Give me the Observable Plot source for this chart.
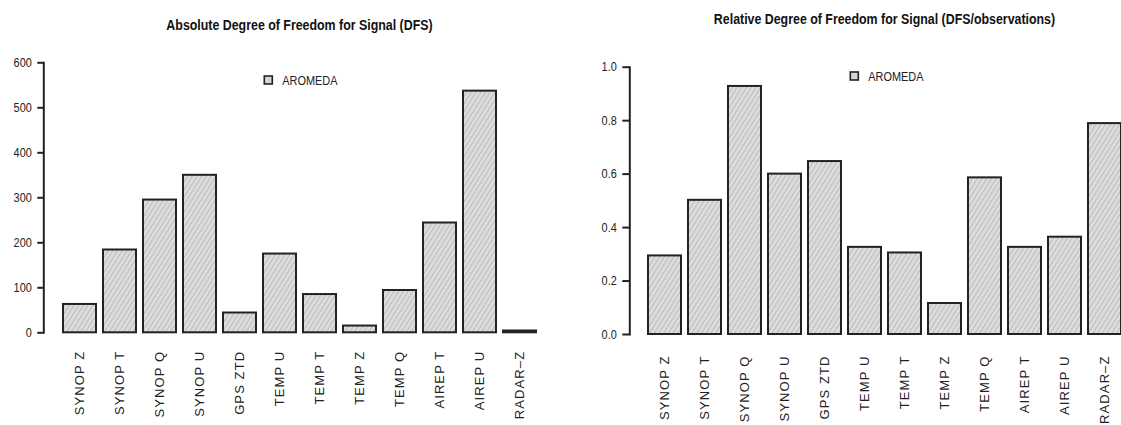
<!DOCTYPE html>
<html><head><meta charset="utf-8">
<script src="https://cdn.jsdelivr.net/npm/d3@7"></script>
<script src="https://cdn.jsdelivr.net/npm/@observablehq/plot@0.6"></script>
<style>
html,body{margin:0;padding:0;background:#fff;overflow:hidden;width:1121px;height:425px}
#wrap{position:relative;width:1121px;height:425px;overflow:hidden;background:#fff}
.panel{position:absolute;top:0}
#overlay{position:absolute;left:0;top:0;pointer-events:none}
.pnl g[aria-label="x-axis tick label"] text{letter-spacing:1.1px}
</style>
</head><body>
<div id="wrap"></div>
<script>
// ---- data ----
const categories = ["SYNOP Z","SYNOP T","SYNOP Q","SYNOP U","GPS ZTD","TEMP U","TEMP T","TEMP Z","TEMP Q","AIREP T","AIREP U","RADAR–Z"];
const absoluteDFS = [63, 184, 295, 350, 44, 175, 85, 15, 94, 244, 537, 4];
const relativeDFS = [0.294, 0.502, 0.928, 0.600, 0.647, 0.326, 0.305, 0.116, 0.586, 0.326, 0.364, 0.789];
const absTicks = [0, 100, 200, 300, 400, 500, 600];
const relTicks = [0, 0.2, 0.4, 0.6, 0.8, 1.0];
const titles = ["Absolute Degree of Freedom for Signal (DFS)", "Relative Degree of Freedom for Signal (DFS/observations)"];
const seriesName = "AROMEDA";

const sans = "'Liberation Sans',Arial,sans-serif";
const ink = "#222";
const squeeze = 0.84; // horizontal compression of the original raster

const wrap = document.getElementById("wrap");

function addHatch(svg, id) {
  const defs = d3.select(svg).insert("defs", ":first-child");
  const p = defs.append("pattern").attr("id", id).attr("patternUnits", "userSpaceOnUse")
    .attr("width", 4).attr("height", 4).attr("patternTransform", "rotate(32)");
  p.append("rect").attr("width", 4).attr("height", 4).attr("fill", "#dcdcdc");
  p.append("line").attr("x1", 0.5).attr("y1", 0).attr("x2", 0.5).attr("y2", 4)
    .attr("stroke", "#bcbcbc").attr("stroke-width", 1);
}

// compress text horizontally around its anchor point
function narrowText(sel, k) {
  sel.each(function() {
    const x = parseFloat(this.getAttribute("x") || 0);
    const t = this.getAttribute("transform") || "";
    this.setAttribute("transform", `${t} translate(${x},0) scale(${k},1) translate(${-x},0)`.trim());
  });
}

function panel(opt) {
  const data = categories.map((c, i) => ({cat: c, v: opt.values[i]}));
  const chart = Plot.plot({
    className: "pnl",
    width: opt.width, height: 425,
    marginLeft: opt.marginLeft, marginRight: opt.marginRight,
    marginTop: opt.marginTop, marginBottom: opt.marginBottom,
    style: {background: "transparent", overflow: "visible"},
    x: {type: "band", domain: categories, padding: 0.18, insetLeft: opt.insetLeft, axis: null},
    y: {domain: [opt.ticks[0], opt.ticks[opt.ticks.length - 1]], axis: null},
    marks: [
      Plot.barY(data, {x: "cat", y: "v", fill: `url(#${opt.id})`, stroke: ink, strokeWidth: 2}),
      Plot.frame({anchor: "left", stroke: ink, strokeWidth: 2}),
      Plot.axisY({ticks: opt.ticks, tickFormat: opt.fmt, tickSize: opt.tickSize, tickPadding: 6, label: null,
        stroke: ink, strokeWidth: 2, fill: ink, fontSize: 13, fontFamily: sans}),
      Plot.axisX({tickSize: 0, tickPadding: opt.xPad, tickRotate: -90, fill: ink, label: null,
        fontSize: 13, fontFamily: sans})
    ]
  });
  addHatch(chart, opt.id);
  chart.classList.add("panel");
  chart.style.left = opt.left + "px";
  wrap.appendChild(chart);
  narrowText(d3.select(chart).selectAll('g[aria-label="y-axis tick label"] text'), squeeze);
  return chart;
}

const left = panel({values: absoluteDFS, ticks: absTicks, fmt: d3.format("d"), id: "hatchA",
  left: 0, width: 560, marginLeft: 43.3, insetLeft: 12.6, marginRight: 16.9,
  marginTop: 62.3, marginBottom: 92.7, tickSize: 6, xPad: 18});
const right = panel({values: relativeDFS, ticks: relTicks, fmt: d3.format(".1f"), id: "hatchB",
  left: 560, width: 570, marginLeft: 69.3, insetLeft: 11.6, marginRight: 1.9,
  marginTop: 66.7, marginBottom: 91, tickSize: 7, xPad: 21});

// titles and legends overlay
const ov = d3.select(wrap).append("svg").attr("id", "overlay").attr("width", 1121).attr("height", 425);
function decorate(chart, offset, axisX, title, titleY, legY) {
  const xs = chart.scale("x");
  const cx = offset + (xs.range[0] + xs.range[1]) / 2;
  const t = ov.append("text").attr("x", cx).attr("y", titleY).attr("text-anchor", "middle")
    .attr("font-family", sans).attr("font-weight", "bold").attr("font-size", 15.5)
    .attr("fill", "#111").text(title);
  narrowText(t, 0.8);
  const sx = axisX + 225;
  ov.append("rect").attr("x", sx - 4).attr("y", legY - 4).attr("width", 8).attr("height", 8)
    .attr("fill", "#d6d6d6").attr("stroke", ink).attr("stroke-width", 1.6);
  const lt = ov.append("text").attr("x", sx + 14).attr("y", legY).attr("dy", "0.36em")
    .attr("font-family", sans).attr("font-size", 13).attr("fill", ink).text(seriesName);
  narrowText(lt, squeeze);
}
decorate(left, 0, 43.3, titles[0], 30, 80);
decorate(right, 560, 629.3, titles[1], 24, 76);
</script>
</body></html>
